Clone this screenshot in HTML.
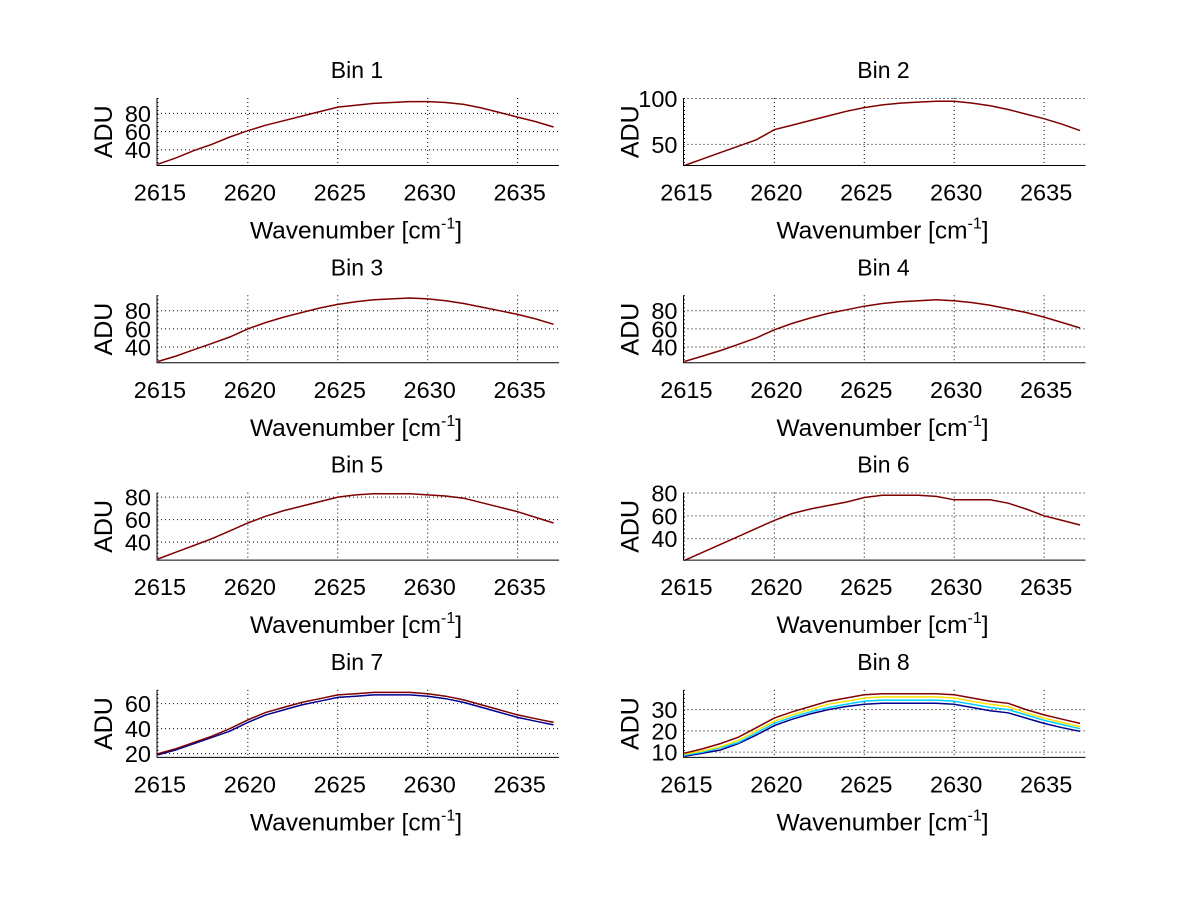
<!DOCTYPE html>
<html><head><meta charset="utf-8"><style>
html,body{margin:0;padding:0;background:#fff;}
svg{display:block;font-family:"Liberation Sans",sans-serif;}
</style></head><body>
<svg id="fig" width="1200" height="901" viewBox="0 0 1200 901"></svg>
<script>
const xTicks = [2615, 2620, 2625, 2630, 2635];
const xSamples = [2615,2616,2617,2618,2619,2620,2621,2622,2623,2624,2625,2626,2627,2628,2629,2630,2631,2632,2633,2634,2635,2636,2637];
const bin1 = [24,31,39,46,54,61,67,72,77,82,87,89,91,92,93,93,92,90,86,81,76,71,65];
const bin2 = [27,34,41,48,55,66,71,76,81,86,90,93,95,96,97,97,95,92,88,83,78,72,65];
const bin3 = [24,30,37,44,51,60,67,73,78,83,87,90,92,93,94,93,91,88,84,80,76,71,65];
const bin4 = [24,30,36,43,50,59,66,72,77,81,85,88,90,91,92,91,89,86,82,78,73,67,61];
const bin5 = [25,31,37,43,50,57,63,68,72,76,80,82,83,83,83,82,81,79,75,71,67,62,57];
const bin6 = [21,28,35,42,49,56,62,66,69,72,76,78,78,78,77,74,74,74,71,66,60,56,52];
const bin7Red = [20,24,29,34,40,47,53,57,61,64,67,68,69,69,69,68,66,63,59,55,51,48,45];
const bin7Blue = [19,23,28,33,38,45,51,55,59,62,65,66,67,67,67,66,64,61,57,53,49,46,43];
const bin8Red = [9.5,11.5,14,17,21.5,26,29,31.5,34,35.5,37,37.5,37.5,37.5,37.5,37,35.5,34,33,30,27.5,25.5,23.5];
const bin8Yellow = [9,10.5,12.5,15.5,20,24.5,27.5,30,32.5,34,35.5,36,36,36,36,35.5,34,32.5,31.5,28.5,26,24,22];
const bin8Cyan = [8.5,10,12,14.5,19,23.5,26.5,29,31,32.5,34,34.5,34.5,34.5,34.5,34,32.5,31,30,27.5,25,23,21];
const bin8Blue = [8,9.5,11,14,18,22.5,25.5,28,30,31.5,32.5,33,33,33,33,32.5,31,29.5,28.5,26,23.5,21.5,19.8];
const yTicks1 = [40,60,80], yTicks2 = [50,100], yTicks7 = [20,40,60], yTicks8 = [10,20,30];

const panels = [
 {t:'Bin 1', c:0, r:0, ymin:22.6, ymax:97, yt:yTicks1, s:[[bin1,'#800000']]},
 {t:'Bin 2', c:1, r:0, ymin:27, ymax:100.5, yt:yTicks2, s:[[bin2,'#800000']]},
 {t:'Bin 3', c:0, r:1, ymin:22.6, ymax:97, yt:yTicks1, s:[[bin3,'#800000']]},
 {t:'Bin 4', c:1, r:1, ymin:22.6, ymax:97, yt:yTicks1, s:[[bin4,'#800000']]},
 {t:'Bin 5', c:0, r:2, ymin:24, ymax:84, yt:yTicks1, s:[[bin5,'#800000']]},
 {t:'Bin 6', c:1, r:2, ymin:21.3, ymax:80.3, yt:yTicks1, s:[[bin6,'#800000']]},
 {t:'Bin 7', c:0, r:3, ymin:17, ymax:71, yt:yTicks7, s:[[bin7Blue,'#00008f'],[bin7Red,'#800000']]},
 {t:'Bin 8', c:1, r:3, ymin:7.5, ymax:39.3, yt:yTicks8, s:[[bin8Blue,'#00008f'],[bin8Cyan,'#00cfff'],[bin8Yellow,'#ffdf00'],[bin8Red,'#800000']]}
];
const NS='http://www.w3.org/2000/svg';
const svg=document.getElementById('fig');
function mk(tag,attrs,parent){const e=document.createElementNS(NS,tag);for(const k in attrs)e.setAttribute(k,attrs[k]);(parent||svg).appendChild(e);return e;}
const XMIN=2614.95, XMAX=2637.3, W=402, H=67.5;
panels.forEach((p,i)=>{
  const x0 = p.c===0?157:683.5, y0 = 98+197.3*p.r;
  const g=mk('g',{});
  
  
  const sx=v=>x0+(v-XMIN)/(XMAX-XMIN)*W;
  const sy=v=>y0+H-(v-p.ymin)/(p.ymax-p.ymin)*H;
  xTicks.forEach(t=>{
    const l=mk('line',{x1:sx(t),x2:sx(t),y1:y0,y2:y0+H,stroke:'#000','stroke-width':1,'stroke-dasharray':'1,3'},g);
    
    
    const tx=mk('text',{x:sx(t)+2,y:y0+H+35,'font-size':23.5,'text-anchor':'middle'},g);
    tx.textContent=t;
    
    
  });
  p.yt.forEach(t=>{
    const l=mk('line',{x1:x0,x2:x0+W,y1:sy(t),y2:sy(t),stroke:'#000','stroke-width':1,'stroke-dasharray':'1,3'},g);
    
    
    const tx=mk('text',{x:x0-6,y:sy(t)+8.5,'font-size':23.5,'text-anchor':'end'},g);
    tx.textContent=t;
    
    
  });
  p.s.forEach(([arr,col])=>{
    const pts=arr.map((v,k)=>sx(xSamples[k]).toFixed(1)+','+sy(v).toFixed(1)).join(' ');
    const pl=mk('polyline',{points:pts,fill:'none',stroke:col,'stroke-width':1.5},g);
    
    
  });
  const ax=mk('path',{d:`M${x0},${y0} V${y0+H} H${x0+W}`,fill:'none',stroke:'#000','stroke-width':1},g);
  
  
  const tt=mk('text',{x:x0+W/2-1,y:y0-20,'font-size':23,'text-anchor':'middle'},g);
  tt.textContent=p.t;
  
  
  const xl=mk('text',{x:x0+W/2-2,y:y0+H+73,'font-size':24.5,'text-anchor':'middle'},g);
  xl.innerHTML='Wavenumber [cm<tspan font-size="16" dy="-10">-1</tspan><tspan dy="10">]</tspan>';
  
  
  const yl=mk('text',{x:0,y:0,'font-size':25,'text-anchor':'middle',transform:`translate(${x0-45},${y0+H/2}) rotate(-90)`},g);
  yl.textContent='ADU';
  
  
});
</script>
</body></html>
